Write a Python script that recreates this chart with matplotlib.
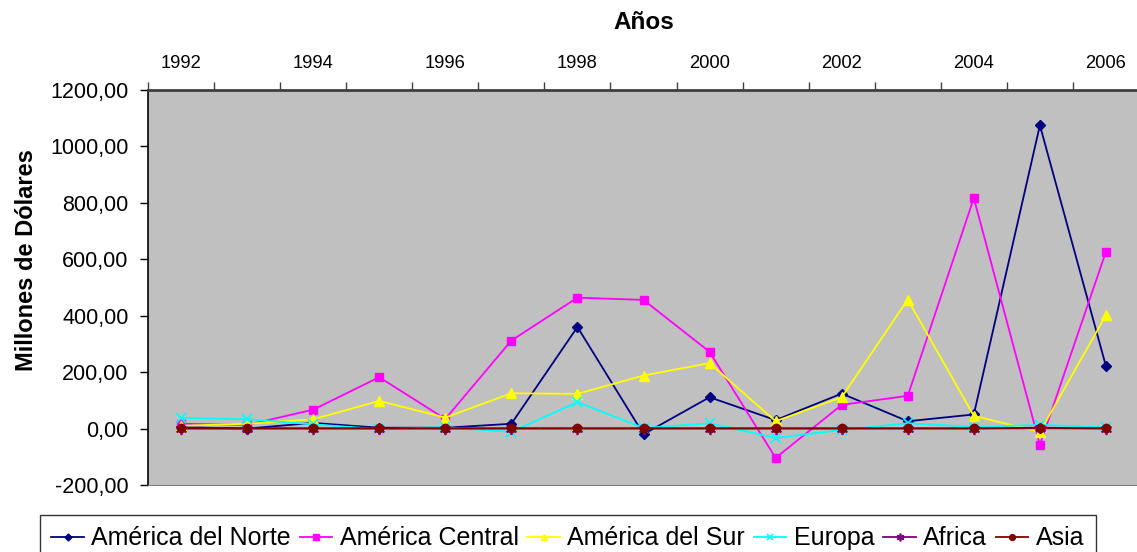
import matplotlib.pyplot as plt
from matplotlib.ticker import FuncFormatter, FixedLocator

# Data (millions of dollars per region and year)
years = list(range(1992, 2007))
norte = [5, 0, 20, 3, 3, 17, 360, -20, 111, 30, 124, 26, 50, 1075, 221]
central = [17, 13, 67, 182, 34, 312, 464, 456, 272, -104, 84, 116, 817, -58, 627]
sur = [10, 17, 33, 98, 39, 125, 123, 188, 232, 26, 111, 457, 45, -12, 402]
europa = [38, 33, 15, -2, 5, -12, 94, 2, 19, -33, -5, 19, 6, 13, 5]
africa = [0, 0, 0, 0, 0, 0, 0, 0, 0, 0, 0, 0, 0, 1, 0]
asia = [1, 1, 1, 1, 1, 1, 1, 1, 1, 1, 1, 1, 1, 3, 1]

series_names = ["América del Norte", "América Central", "América del Sur",
                "Europa", "Africa", "Asia"]
y_ticks = [-200, 0, 200, 400, 600, 800, 1000, 1200]


def main():
    plt.rcParams["font.family"] = ["Liberation Sans", "DejaVu Sans"]

    fig = plt.figure(figsize=(11.37, 5.52), dpi=100)
    ax = fig.add_axes([148 / 1137, 1 - 485 / 552, 991 / 1137, 395 / 552])
    ax.set_facecolor("#C0C0C0")

    x = list(range(len(years)))
    styles = [
        dict(color="#000080", marker="D", ms=5),
        dict(color="#FF00FF", marker="s", ms=6),
        dict(color="#FFFF00", marker="^", ms=7),
        dict(color="#00FFFF", marker="x", ms=7, mew=1.2),
        dict(color="#800080", marker=(6, 2, 0), ms=8, mew=1.2),
        dict(color="#800000", marker="o", ms=6),
    ]
    for values, name, st in zip([norte, central, sur, europa, africa, asia],
                                series_names, styles):
        ax.plot(x, values, lw=1.3, label=name, **st)

    # category axis on top: tick marks between years, labels every 2 years
    ax.set_xlim(-0.5, len(years) - 0.5)
    ax.xaxis.tick_top()
    ax.xaxis.set_major_locator(FixedLocator([i - 0.5 for i in range(len(years) + 1)]))
    ax.xaxis.set_major_formatter(FuncFormatter(lambda v, p: ""))
    ax.xaxis.set_minor_locator(FixedLocator(x[::2]))
    ax.set_xticklabels([str(y) for y in years[::2]], minor=True)
    ax.tick_params(axis="x", which="major", direction="out", length=6,
                   width=1, color="#404040", top=True)
    ax.tick_params(axis="x", which="minor", length=0, labelsize=13.2, pad=13)
    ax.xaxis.set_label_position("top")
    ax.set_xlabel("Años", fontsize=17.5, fontweight="bold", labelpad=19)

    ax.set_ylim(-200, 1200)
    ax.set_yticks(y_ticks)
    ax.yaxis.set_major_formatter(
        FuncFormatter(lambda v, p: ("%.2f" % v).replace(".", ",")))
    ax.tick_params(axis="y", direction="out", length=6, width=1,
                   labelsize=15.5, pad=8)
    ax.set_ylabel("Millones de Dólares", fontsize=17, fontweight="bold")
    ax.yaxis.set_label_coords(-0.111, 0.57)

    ax.spines["top"].set_color("#404040")
    ax.spines["top"].set_linewidth(2)
    ax.spines["left"].set_color("black")
    ax.spines["left"].set_linewidth(1.2)
    ax.spines["bottom"].set_color("#808080")
    ax.spines["right"].set_visible(False)

    leg = fig.legend(loc="upper left", bbox_to_anchor=(40 / 1137, 1 - 515 / 552),
                     ncol=6, fontsize=18, frameon=True, fancybox=False,
                     handlelength=1.3, handletextpad=0.3, columnspacing=0.35,
                     borderpad=0.45, borderaxespad=0, markerscale=0.7)
    leg.get_frame().set_edgecolor("black")
    leg.get_frame().set_linewidth(1)

    fig.savefig("out.png", dpi=100)


if __name__ == "__main__":
    main()
